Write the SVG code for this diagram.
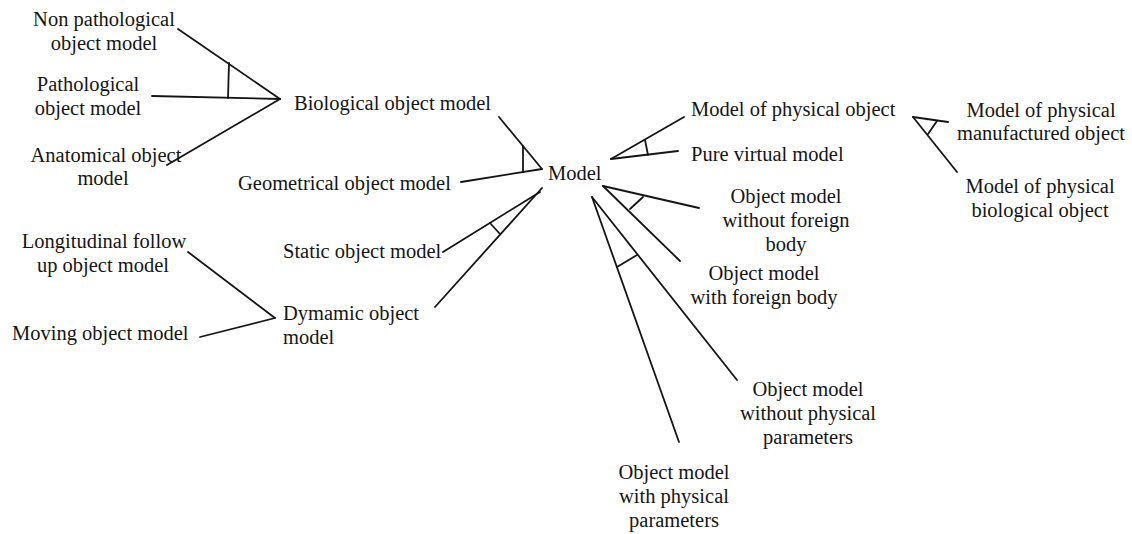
<svg xmlns="http://www.w3.org/2000/svg" width="1132" height="534" viewBox="0 0 1132 534">
<style>
text{font-family:"Liberation Serif","Times New Roman",serif;font-size:20.5px;fill:#151515}
.c{text-anchor:middle}
line{stroke:#151515;stroke-width:1.8;stroke-linecap:round;fill:none}
</style>
<rect width="1132" height="534" fill="#ffffff"/>
<g id="connectors">
<line x1="178" y1="29" x2="280" y2="99"/>
<line x1="152" y1="96" x2="280" y2="99"/>
<line x1="167" y1="165" x2="280" y2="99"/>
<line x1="229" y1="63" x2="228" y2="98"/>
<line x1="499" y1="117" x2="542" y2="169"/>
<line x1="461" y1="182" x2="542" y2="169"/>
<line x1="523" y1="146" x2="523" y2="172"/>
<line x1="443" y1="252" x2="540" y2="192"/>
<line x1="435" y1="307" x2="542" y2="188"/>
<line x1="490" y1="223" x2="500" y2="234"/>
<line x1="188" y1="252" x2="275" y2="318"/>
<line x1="200" y1="337" x2="275" y2="318"/>
<line x1="611" y1="159" x2="684" y2="117"/>
<line x1="611" y1="159" x2="678" y2="151"/>
<line x1="645" y1="140" x2="648" y2="155"/>
<line x1="603" y1="186" x2="699" y2="208"/>
<line x1="603" y1="186" x2="680" y2="261"/>
<line x1="643" y1="197" x2="630" y2="209"/>
<line x1="592" y1="197" x2="737" y2="380"/>
<line x1="592" y1="197" x2="679" y2="442"/>
<line x1="637" y1="255" x2="617" y2="267"/>
<line x1="913" y1="117" x2="948" y2="122"/>
<line x1="913" y1="117" x2="957" y2="172"/>
<line x1="937" y1="121" x2="928" y2="134"/>
</g>
<g id="non-pathological"><text class="c" x="104" y="26">Non pathological</text><text class="c" x="104" y="50">object model</text></g>
<g id="pathological"><text class="c" x="88" y="91">Pathological</text><text class="c" x="88" y="115">object model</text></g>
<g id="anatomical"><text class="c" x="106" y="162">Anatomical object</text><text class="c" x="103" y="185">model</text></g>
<g id="biological"><text x="294" y="110">Biological object model</text></g>
<g id="geometrical"><text x="238" y="190">Geometrical object model</text></g>
<g id="model"><text x="548" y="180">Model</text></g>
<g id="static"><text x="283" y="258">Static object model</text></g>
<g id="dynamic"><text x="283" y="320">Dymamic object</text><text x="283" y="344">model</text></g>
<g id="longitudinal"><text class="c" x="104" y="248">Longitudinal follow</text><text class="c" x="103" y="272">up object model</text></g>
<g id="moving"><text x="12" y="340">Moving object model</text></g>
<g id="physical-object"><text x="691" y="116">Model of physical object</text></g>
<g id="pure-virtual"><text x="691" y="161">Pure virtual model</text></g>
<g id="without-foreign"><text class="c" x="786" y="203">Object model</text><text class="c" x="786" y="227">without foreign</text><text class="c" x="786" y="251">body</text></g>
<g id="with-foreign"><text class="c" x="764" y="280">Object model</text><text class="c" x="764" y="304">with foreign body</text></g>
<g id="without-physical"><text class="c" x="808" y="396">Object model</text><text class="c" x="808" y="420">without physical</text><text class="c" x="808" y="444">parameters</text></g>
<g id="with-physical"><text class="c" x="674" y="479">Object model</text><text class="c" x="674" y="503">with physical</text><text class="c" x="674" y="527">parameters</text></g>
<g id="manufactured"><text class="c" x="1041" y="117">Model of physical</text><text class="c" x="1041" y="140">manufactured object</text></g>
<g id="biological-physical"><text class="c" x="1040" y="193">Model of physical</text><text class="c" x="1040" y="217">biological object</text></g>
</svg>
